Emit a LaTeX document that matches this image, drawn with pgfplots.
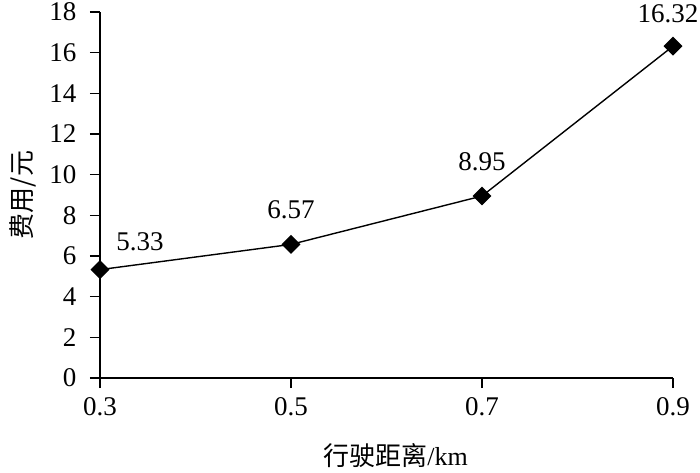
\documentclass[border=0pt]{standalone}
\usepackage{pgfplots}
\pgfplotsset{compat=1.18}
\usepackage{fontspec}
\setmainfont{Liberation Serif}
\newfontfamily\cjk{Noto Sans CJK SC}
\begin{document}
\begin{tikzpicture}
\useasboundingbox (-100pt,-94pt) rectangle (600pt,378pt);
\begin{axis}[
  at={(0,0)}, anchor=south west,
  scale only axis, width=573pt, height=366pt,
  xmin=0.3, xmax=0.9, ymin=0, ymax=18,
  xtick={0.3,0.5,0.7,0.9},
  xticklabels={0.3,0.5,0.7,0.9},
  ytick={0,2,...,18},
  axis lines=left,
  axis line style={-, line width=1.5pt, black},
  tick style={line width=1.5pt, black},
  tick align=outside,
  major tick length=10pt,
  /pgf/number format/assume math mode=true,
  tick label style={font=\fontsize{27}{30}\selectfont},
  xticklabel style={yshift=-6pt},
  yticklabel style={xshift=-10pt},
  xlabel={{\cjk 行驶距离}/km},
  ylabel={{\cjk 费用/元}},
  label style={font=\fontsize{26}{30}\selectfont},
  xlabel style={yshift=-21pt, xshift=9pt},
  ylabel style={yshift=6pt},
  clip=false,
]
\addplot[black, line width=1.4pt, mark=square*, mark size=6pt,
  mark options={rotate=45, solid, fill=black}]
  coordinates {(0.3,5.33) (0.5,6.57) (0.7,8.95) (0.9,16.32)};
\addplot[draw=none, mark=none, point meta=explicit,
  nodes near coords={\fontsize{27}{30}\selectfont\pgfmathprintnumber[fixed,precision=2,fixed zerofill]{\pgfplotspointmeta}},
  nodes near coords style={anchor=south, yshift=22pt}]
  coordinates {(0.5,6.57) [6.57] (0.7,8.95) [8.95]};
\addplot[draw=none, mark=none, point meta=explicit,
  nodes near coords={\fontsize{27}{30}\selectfont\pgfmathprintnumber[fixed,precision=2,fixed zerofill]{\pgfplotspointmeta}},
  nodes near coords style={anchor=south, yshift=20pt, xshift=-5pt}]
  coordinates {(0.9,16.32) [16.32]};
\addplot[draw=none, mark=none, point meta=explicit,
  nodes near coords={\fontsize{27}{30}\selectfont\pgfmathprintnumber[fixed,precision=2,fixed zerofill]{\pgfplotspointmeta}},
  nodes near coords style={anchor=center, xshift=40pt, yshift=28pt}]
  coordinates {(0.3,5.33) [5.33]};
\end{axis}
\end{tikzpicture}
\end{document}
